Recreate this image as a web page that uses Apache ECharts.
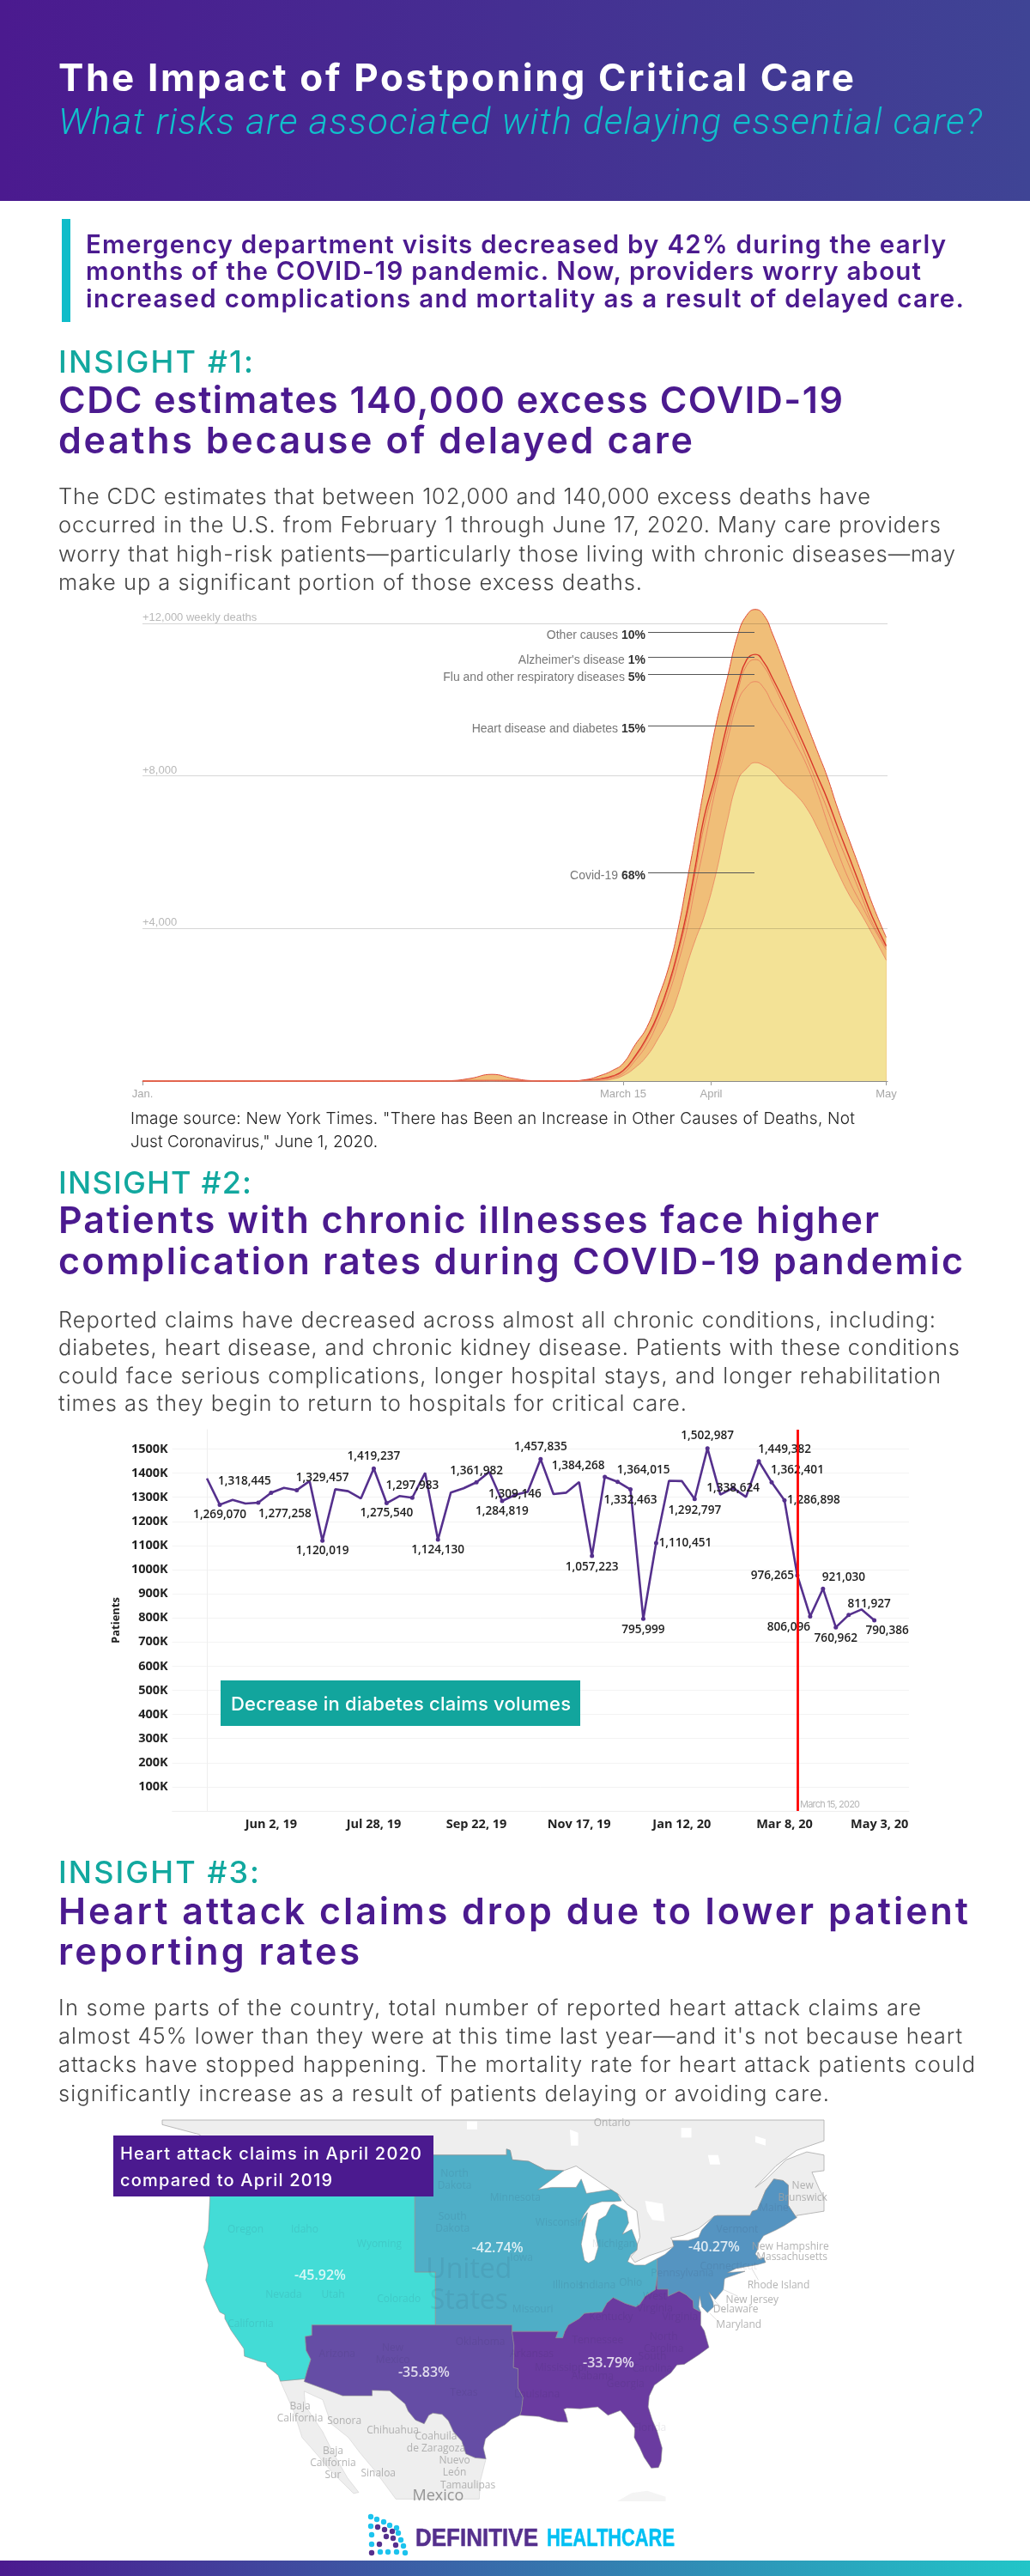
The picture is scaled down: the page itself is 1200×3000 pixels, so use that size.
<!DOCTYPE html>
<html>
<head>
<meta charset="utf-8">
<title>The Impact of Postponing Critical Care</title>
<script src="https://cdn.jsdelivr.net/npm/echarts@6/dist/echarts.min.js"></script>
<style>
  html, body { margin: 0; padding: 0; background: #fff; }
  #page { position: relative; width: 1200px; height: 3000px; overflow: hidden; }
  #chart, #copy { position: absolute; left: 0; top: 0; width: 1200px; height: 3000px; }
  #copy { pointer-events: none; }
  #copy text { font-family: Inter, "Noto Sans", sans-serif; font-variant-ligatures: none; }
  .title { font-size: 44px; font-weight: 700; fill: #fff; }
  .subtitle { font-family: Roboto, sans-serif !important; font-size: 43px; font-weight: 300; font-style: italic; fill: #10c0cc; }
  .callout { font-size: 29.5px; font-weight: 600; fill: #4b1a8f; }
  .insight { font-size: 36px; font-weight: 500; fill: #12a89f; }
  .heading { font-size: 43px; font-weight: 600; fill: #4b1a8f; }
  .body { font-size: 25.5px; font-weight: 300; fill: #444; }
  .source { font-size: 19px; font-weight: 300; fill: #222; }
  .box { font-size: 22px; font-weight: 500; fill: #fff; }
  .mapbox { font-size: 20px; font-weight: 500; fill: #fff; }
  .logo { font-family: "Liberation Sans Narrow", "Liberation Sans", sans-serif !important; font-size: 29px; font-weight: 700; stroke-width: 0.5; }
</style>
</head>
<body>
<div id="page">
  <div id="chart"></div>
  <svg id="copy" width="1200" height="3000" xmlns="http://www.w3.org/2000/svg">
    <defs>
      <linearGradient id="headGrad" x1="0" x2="1" y1="0" y2="0">
        <stop offset="0" stop-color="#4b1a8f"/><stop offset="1" stop-color="#3f4495"/>
      </linearGradient>
      <linearGradient id="footGrad" x1="0" x2="1" y1="0" y2="0">
        <stop offset="0" stop-color="#4b1a8f"/><stop offset="1" stop-color="#22c5c8"/>
      </linearGradient>
    </defs>
    <rect x="0" y="0" width="1200" height="234" fill="url(#headGrad)"/>
    <text class="title" x="68" y="106" textLength="927" lengthAdjust="spacing">The Impact of Postponing Critical Care</text>
    <text class="subtitle" x="68" y="156" textLength="1076" lengthAdjust="spacing">What risks are associated with delaying essential care?</text>

    <rect x="72" y="255" width="10" height="120" fill="#0fbcc9"/>
    <text class="callout" x="100" y="295" textLength="1002" lengthAdjust="spacing">Emergency department visits decreased by 42% during the early</text>
    <text class="callout" x="100" y="326" textLength="973" lengthAdjust="spacing">months of the COVID-19 pandemic. Now, providers worry about</text>
    <text class="callout" x="100" y="358" textLength="1023" lengthAdjust="spacing">increased complications and mortality as a result of delayed care.</text>

    <text class="insight" x="68" y="434" textLength="227" lengthAdjust="spacing">INSIGHT #1:</text>
    <text class="heading" x="68" y="481" textLength="914" lengthAdjust="spacing">CDC estimates 140,000 excess COVID-19</text>
    <text class="heading" x="68" y="528" textLength="739" lengthAdjust="spacing">deaths because of delayed care</text>
    <text class="body" x="68" y="587" textLength="946" lengthAdjust="spacing">The CDC estimates that between 102,000 and 140,000 excess deaths have</text>
    <text class="body" x="68" y="620" textLength="1028" lengthAdjust="spacing">occurred in the U.S. from February 1 through June 17, 2020. Many care providers</text>
    <text class="body" x="68" y="654" textLength="1045" lengthAdjust="spacing">worry that high-risk patients—particularly those living with chronic diseases—may</text>
    <text class="body" x="68" y="687" textLength="680" lengthAdjust="spacing">make up a significant portion of those excess deaths.</text>

    <text class="source" x="152" y="1309" textLength="844" lengthAdjust="spacing">Image source: New York Times. "There has Been an Increase in Other Causes of Deaths, Not</text>
    <text class="source" x="152" y="1336" textLength="288" lengthAdjust="spacing">Just Coronavirus," June 1, 2020.</text>

    <text class="insight" x="68" y="1390" textLength="225" lengthAdjust="spacing">INSIGHT #2:</text>
    <text class="heading" x="68" y="1436" textLength="956" lengthAdjust="spacing">Patients with chronic illnesses face higher</text>
    <text class="heading" x="68" y="1484" textLength="1054" lengthAdjust="spacing">complication rates during COVID-19 pandemic</text>
    <text class="body" x="68" y="1546" textLength="1022" lengthAdjust="spacing">Reported claims have decreased across almost all chronic conditions, including:</text>
    <text class="body" x="68" y="1578" textLength="1050" lengthAdjust="spacing">diabetes, heart disease, and chronic kidney disease. Patients with these conditions</text>
    <text class="body" x="68" y="1611" textLength="1028" lengthAdjust="spacing">could face serious complications, longer hospital stays, and longer rehabilitation</text>
    <text class="body" x="68" y="1643" textLength="732" lengthAdjust="spacing">times as they begin to return to hospitals for critical care.</text>

    <rect x="257" y="1957" width="419" height="53" fill="#12a59d"/>
    <text class="box" x="269" y="1992" textLength="396" lengthAdjust="spacing">Decrease in diabetes claims volumes</text>
    <text x="932" y="2105" font-size="11" fill="#b5b5b5" textLength="70" lengthAdjust="spacing">March 15, 2020</text>

    <text class="insight" x="68" y="2193" textLength="234" lengthAdjust="spacing">INSIGHT #3:</text>
    <text class="heading" x="68" y="2241" textLength="1060" lengthAdjust="spacing">Heart attack claims drop due to lower patient</text>
    <text class="heading" x="68" y="2288" textLength="351" lengthAdjust="spacing">reporting rates</text>
    <text class="body" x="68" y="2347" textLength="1005" lengthAdjust="spacing">In some parts of the country, total number of reported heart attack claims are</text>
    <text class="body" x="68" y="2380" textLength="1053" lengthAdjust="spacing">almost 45% lower than they were at this time last year—and it's not because heart</text>
    <text class="body" x="68" y="2413" textLength="1068" lengthAdjust="spacing">attacks have stopped happening. The mortality rate for heart attack patients could</text>
    <text class="body" x="68" y="2447" textLength="898" lengthAdjust="spacing">significantly increase as a result of patients delaying or avoiding care.</text>

    <rect x="132" y="2487" width="373" height="71" fill="#4b1a8f"/>
    <text class="mapbox" x="140" y="2515" textLength="351" lengthAdjust="spacing">Heart attack claims in April 2020</text>
    <text class="mapbox" x="140" y="2546" textLength="247" lengthAdjust="spacing">compared to April 2019</text>

    <g id="logoDots"></g>
    <text class="logo" x="484" y="2965" fill="#55308d" stroke="#55308d" textLength="143" lengthAdjust="spacingAndGlyphs">DEFINITIVE</text>
    <text class="logo" x="637" y="2965" fill="#00c0f3" stroke="#00c0f3" textLength="149" lengthAdjust="spacingAndGlyphs">HEALTHCARE</text>

    <rect x="0" y="2982" width="1200" height="18" fill="url(#footGrad)"/>
  </svg>
</div>
<script>
// ---- chart 1: excess deaths, each curve is the top of a band
const weekPos = [0, 4.68, 6.68, 7.16, 7.64, 8.14, 8.64, 9.12, 9.88, 10.34,
  10.68, 10.95, 11.2, 11.48, 11.75, 12.01, 12.28, 12.48, 12.68, 12.88, 13.08, 13.35, 13.61, 13.88,
  14.08, 14.28, 14.48, 14.68, 14.95, 15.21, 15.48, 15.75, 15.95, 16.21, 16.48, 16.75, 17.01, 17.33];
const otherTop = [0, 0, 0, 10, 70, 176, 70, 10, 0, 40,
  150, 278, 465, 953, 1404, 2155, 3056, 3994, 5188, 6404, 7651, 9287, 10489, 11727,
  12215, 12366, 12215, 11727, 10939, 10151, 9362, 8574, 7996, 7111, 6284, 5458, 4632, 3769];
const alzheimerTop = [0, 0, 0, 5, 10, 15, 10, 5, 0, 20,
  60, 130, 278, 653, 1141, 1742, 2605, 3431, 4407, 5608, 6885, 8011, 9287, 10414,
  11052, 11187, 10977, 10564, 9963, 9325, 8649, 7936, 7410, 6622, 5834, 5045, 4295, 3544];
const fluTop = [0, 0, 0, 4, 8, 12, 8, 4, 0, 15,
  55, 120, 255, 620, 1085, 1690, 2530, 3330, 4270, 5450, 6650, 7850, 9062, 10264,
  10902, 11052, 10864, 10451, 9813, 9175, 8461, 7711, 7148, 6359, 5609, 4858, 4144, 3506];
const heartTop = [0, 0, 0, 3, 6, 8, 6, 3, 0, 10,
  40, 90, 203, 540, 953, 1554, 2342, 3093, 3957, 5083, 6134, 7636, 8837, 9963,
  10339, 10474, 10301, 9888, 9400, 8874, 8274, 7485, 6810, 5984, 5233, 4632, 4069, 3446];
const covidTop = [0, 0, 0, 0, 0, 0, 0, 0, 0, 5,
  15, 50, 143, 353, 653, 1104, 1667, 2267, 3018, 3694, 4294, 5383, 6735, 7898,
  8199, 8349, 8274, 8124, 7786, 7523, 7148, 6584, 6096, 5458, 4858, 4370, 3844, 3168];
const causeNames = ['Other causes', "Alzheimer's disease", 'Flu and other respiratory diseases', 'Heart disease and diabetes', 'Covid-19'];
const causeShares = ['10%', '1%', '5%', '15%', '68%'];
const causeLeaderValues = [11780, 11112, 10661, 9317, 5466];
const deathTicks = [4000, 8000, 12000];
const deathTickLabels = ['+4,000', '+8,000', '+12,000 weekly deaths'];
const monthTicks = [0, 11.2, 13.25, 17.33];
const monthTickLabels = ['Jan.', 'March 15', 'April', 'May'];

// ---- chart 2: weekly diabetes claims, Apr 28 2019 to Apr 26 2020
const diabetesClaims = [1378000, 1269070, 1289000, 1274000, 1277258, 1318445, 1339000, 1329457, 1367000, 1120019,
  1333000, 1325000, 1295000, 1419237, 1275540, 1305000, 1297983, 1401000, 1124130, 1319000,
  1337000, 1361982, 1405000, 1284819, 1309146, 1323000, 1457835, 1313000, 1319000, 1363000,
  1057223, 1384268, 1364015, 1332463, 795999, 1110451, 1368000, 1367000, 1292797, 1502987,
  1311000, 1338624, 1301000, 1449382, 1362401, 1286898, 976265, 806096, 921030, 760962,
  811927, 835000, 790386];
const claimTickIndex = [5, 13, 21, 29, 37, 45, 52.4];
const claimTickLabels = ['Jun 2, 19', 'Jul 28, 19', 'Sep 22, 19', 'Nov 17, 19', 'Jan 12, 20', 'Mar 8, 20', 'May 3, 20'];
const marchIndex = 46;
// where each printed number sits relative to its point
const claimLabelOffsets = {
  1: [0, 12], 4: [31, 13], 5: [-31, -13], 7: [30, -14], 9: [0, 12], 13: [0, -14], 14: [0, 12], 16: [0, -14],
  18: [0, 12], 21: [0, -13], 23: [0, 12], 24: [0, -1], 26: [0, -14], 30: [0, 13], 31: [-31, -13], 32: [30, -14],
  33: [0, 13], 34: [0, 13], 35: [34, 0], 38: [0, 13], 39: [0, -15], 41: [0, 0], 43: [30, -14], 44: [30, -14],
  45: [34, 0], 46: [-29, 0], 47: [-25, 13], 48: [24, -13], 49: [0, 13], 50: [24, -13], 52: [15, 12]
};

// ---- chart 3: heart attack claims by region, April 2020 vs April 2019
const regionNames = ['West', 'Central', 'Northeast', 'South Central', 'Southeast'];
const regionChange = [-45.92, -42.74, -40.27, -35.83, -33.79];
const regionLabelCoords = [[-113.25, 40.74], [-96.03, 42.7], [-75, 42.74], [-103.17, 33.2], [-85.25, 34]];
const westRing = [[-124.7, 48.4], [-123, 48.3], [-122.8, 49], [-104.05, 49], [-104.05, 41], [-102.05, 41], [-102.05, 37], [-114.05, 37],
  [-114.05, 36.2], [-114.7, 36.1], [-114.6, 35], [-114.15, 34.3], [-114.5, 33.4], [-114.72, 32.72], [-117.12, 32.53], [-117.3, 33],
  [-118.4, 33.75], [-118.5, 34.03], [-119.2, 34.15], [-120.6, 34.55], [-120.65, 35.15], [-121.9, 36.6], [-122.5, 37.5], [-122.5, 37.8],
  [-123, 38], [-123.8, 39.3], [-124.35, 40.4], [-124.1, 41.5], [-124.55, 42.8], [-124.1, 44], [-123.95, 46.2], [-124.1, 46.9]];
const southCentralRing = [[-114.05, 37], [-94.62, 37], [-94.62, 36.5], [-94.43, 35.4], [-94.48, 33.64], [-94.04, 33.55], [-94.04, 33],
  [-94.04, 31.99], [-93.55, 31.2], [-93.7, 30.1], [-93.85, 29.7], [-94.7, 29.35], [-95.3, 28.9], [-96.4, 28.35], [-97.2, 27.7], [-97.4, 26.9],
  [-97.15, 25.96], [-98.2, 26.05], [-99.1, 26.4], [-99.5, 27.5], [-100.3, 28.3], [-100.8, 29.25], [-101.4, 29.77], [-102.3, 29.88],
  [-102.7, 29.7], [-103.15, 28.98], [-104, 29.3], [-104.7, 30.05], [-105, 30.65], [-106.5, 31.75], [-108.2, 31.78], [-108.2, 31.33],
  [-111.07, 31.33], [-114.8, 32.5], [-114.72, 32.72], [-114.5, 33.4], [-114.15, 34.3], [-114.6, 35], [-114.7, 36.1], [-114.05, 36.2]];
const centralRing = [[-104.05, 49], [-95.15, 49], [-95.15, 49.38], [-94.8, 49.3], [-94.6, 48.7], [-93, 48.6], [-91.4, 48.05], [-89.6, 48],
  [-92.1, 46.75], [-90.8, 46.9], [-88.4, 46.9], [-87.9, 47.45], [-87.4, 46.5], [-85, 46.75], [-84.4, 46.5], [-84, 46], [-84.7, 45.95],
  [-85.9, 45.95], [-87, 45.7], [-87.6, 45.1], [-88, 44.55], [-87.3, 45.2], [-87.55, 44.3], [-87.9, 43], [-87.6, 41.85], [-87.2, 41.65],
  [-86.6, 41.9], [-86.25, 42.8], [-86.5, 43.7], [-86.2, 44.7], [-85.5, 45], [-85, 45.7], [-84.75, 45.78], [-83.5, 45.3], [-83.3, 44.5],
  [-83.9, 43.7], [-83, 44.05], [-82.45, 43], [-82.5, 42.6], [-83.1, 42.25], [-83.4, 41.75], [-82.7, 41.5], [-81.7, 41.5], [-80.52, 41.97],
  [-80.52, 40.64], [-80.7, 39.7], [-81.7, 39.2], [-82.2, 38.6], [-82.6, 38.4], [-83.6, 38.65], [-84.8, 39.1], [-85.4, 38.7], [-85.9, 38],
  [-86.8, 37.95], [-87.6, 37.9], [-88.1, 37.5], [-89.15, 37], [-89.5, 36.5], [-89.7, 36], [-90.37, 36], [-90.15, 36.5], [-94.62, 36.5],
  [-94.62, 37], [-102.05, 37], [-102.05, 41], [-104.05, 41]];
const northeastRing = [[-80.52, 41.97], [-79.76, 42.27], [-78.9, 42.85], [-79.05, 43.27], [-77.5, 43.27], [-76.5, 43.5], [-76.2, 44], [-75, 44.95],
  [-74.7, 45], [-71.5, 45], [-71.3, 45.3], [-70.8, 45.4], [-70.3, 46.2], [-70, 46.7], [-69.2, 47.45], [-68.3, 47.35], [-67.8, 47.05], [-67.8, 45.7],
  [-67, 44.85], [-68.2, 44.3], [-69, 44], [-70.2, 43.6], [-70.7, 43.05], [-70.8, 42.6], [-71, 42.3], [-70.6, 41.95], [-70.2, 42.05], [-70, 41.7],
  [-70.7, 41.55], [-71.4, 41.45], [-72.9, 41.25], [-73.7, 40.95], [-72, 41.05], [-73.9, 40.55], [-74, 40.45], [-74.1, 39.7], [-74.9, 38.95],
  [-75.5, 39.5], [-75.1, 38.75], [-75.05, 38.4], [-75.65, 37.95], [-76.2, 38.4], [-76.4, 39.2], [-76.5, 38.4], [-76.3, 38], [-77, 38.3],
  [-77.05, 38.85], [-77.7, 39.3], [-78.4, 39.6], [-79.48, 39.2], [-79.48, 39.72], [-80.52, 39.72]];
const southeastRing = [[-94.62, 36.5], [-90.15, 36.5], [-90.37, 36], [-89.7, 36], [-89.5, 36.5], [-89.15, 37], [-88.1, 37.5], [-87.6, 37.9],
  [-86.8, 37.95], [-85.9, 38], [-85.4, 38.7], [-84.8, 39.1], [-83.6, 38.65], [-82.6, 38.4], [-82.2, 38.6], [-81.7, 39.2], [-80.7, 39.7],
  [-80.52, 40.64], [-80.52, 39.72], [-79.48, 39.72], [-79.48, 39.2], [-78.4, 39.6], [-77.7, 39.3], [-77.05, 38.85], [-77, 38.3], [-76.3, 38],
  [-76.3, 37], [-75.95, 36.55], [-75.5, 35.25], [-76.5, 34.65], [-77.9, 33.9], [-78.6, 33.85], [-79.2, 33.2], [-80.8, 32.2], [-81.3, 31.3],
  [-81.4, 30.4], [-81, 29.3], [-80.55, 28.4], [-80.05, 26.9], [-80.15, 25.75], [-80.4, 25.2], [-81.1, 25.15], [-81.8, 26.1], [-82.2, 26.9],
  [-82.75, 27.8], [-82.7, 28.6], [-83.6, 29.6], [-84.1, 30.1], [-85.3, 29.7], [-86.3, 30.4], [-88, 30.25], [-89.3, 30.3], [-89.6, 30.2],
  [-89.4, 29.8], [-89.2, 29.1], [-90.2, 29.15], [-91.3, 29.4], [-92, 29.6], [-93.85, 29.7], [-93.7, 30.1], [-93.55, 31.2], [-94.04, 31.99],
  [-94.04, 33], [-94.04, 33.55], [-94.48, 33.64], [-94.43, 35.4]];
const canadaRing = [[-128.58, 51.18], [-64.33, 51.18], [-64.33, 49.9], [-67, 49.3], [-69, 48.3], [-71, 46.9], [-70, 47.4], [-68, 48.7], [-66, 49.2],
  [-64.33, 49], [-64.33, 48], [-65.5, 47.9], [-64.8, 46.8], [-64.33, 46.2], [-64.33, 45.3], [-67, 45], [-67, 44.85], [-67.8, 45.7], [-67.8, 47.05],
  [-68.3, 47.35], [-69.2, 47.45], [-70, 46.7], [-70.3, 46.2], [-70.8, 45.4], [-71.3, 45.3], [-71.5, 45], [-74.7, 45], [-75, 44.95], [-76.5, 44.1],
  [-78, 43.63], [-79.2, 43.45], [-79.05, 43.27], [-78.9, 42.85], [-80, 42.5], [-81.25, 42.2], [-82.7, 41.7], [-83.1, 42.1], [-82.5, 42.6],
  [-82.45, 43], [-82.2, 43.5], [-82.5, 45.3], [-83.5, 45.8], [-84.2, 46.4], [-84.9, 46.7], [-88.4, 48.3], [-89.6, 48], [-91.4, 48.05], [-93, 48.6],
  [-94.6, 48.7], [-94.8, 49.3], [-95.15, 49.38], [-95.15, 49], [-122.8, 49], [-123.2, 49.3], [-125, 50.3], [-128.58, 50.9]];
const mexicoRing = [[-117.12, 32.53], [-114.72, 32.72], [-114.8, 32.5], [-111.07, 31.33], [-108.2, 31.33], [-108.2, 31.78], [-106.5, 31.75], [-105, 30.65],
  [-104.7, 30.05], [-104, 29.3], [-103.15, 28.98], [-102.7, 29.7], [-102.3, 29.88], [-101.4, 29.77], [-100.8, 29.25], [-100.3, 28.3], [-99.5, 27.5],
  [-99.1, 26.4], [-98.2, 26.05], [-97.15, 25.96], [-97.7, 24], [-97.8, 22.4], [-105.9, 22.4], [-108, 25], [-109.4, 26.5], [-110.5, 27.8], [-112.2, 29],
  [-113, 31], [-114.8, 31.7], [-114.7, 30.5], [-113, 28.3], [-112, 26.5], [-110.6, 24.3], [-109.5, 23], [-110, 22.9], [-112, 24.7], [-114.2, 27],
  [-115, 27.8], [-115.8, 30]];
const cubaRing = [[-84.4, 22.2], [-83, 22.95], [-81.5, 23.15], [-79.7, 22.6], [-79.7, 22.2]];
const mapFrameRing = [[-128.58, 51.18], [-64.33, 51.18], [-64.33, 22.2], [-128.58, 22.2]];
const canadianLakes = [
  [[-81.7, 46], [-80, 45.8], [-79.8, 44.6], [-81, 44.7], [-81.5, 45.3]],
  [[-89, 50.6], [-88.2, 50.4], [-88.2, 49.6], [-88.9, 49.6]],
  [[-75.6, 49], [-74.6, 49], [-74.4, 48.4], [-75.4, 48.4]],
  [[-78.2, 50.7], [-77.2, 50.7], [-77.2, 50.1], [-78.2, 50.1]],
  [[-71, 50.2], [-70, 50], [-70, 49.6], [-71, 49.8]],
  [[-99, 51.1], [-98, 51.1], [-98, 50.6], [-99, 50.6]]
];
const insidePlaces = ['North\nDakota', 'South\nDakota', 'Minnesota', 'Wisconsin', 'Michigan', 'Iowa', 'Illinois', 'Indiana', 'Ohio', 'Missouri',
  'Oregon', 'Idaho', 'Wyoming', 'Nevada', 'Utah', 'Colorado', 'California', 'Arizona', 'New\nMexico', 'Texas', 'Oklahoma', 'Pennsylvania', 'Kentucky',
  'West\nVirginia', 'Virginia', 'Tennessee', 'North\nCarolina', 'South\nCarolina', 'Arkansas', 'Mississippi', 'Alabama', 'Georgia', 'Louisiana',
  'Florida', 'Vermont', 'Maine', 'Connecticut'];
const insideCoords = [[-100.2, 47.4], [-100.4, 44.5], [-94.3, 46.2], [-90, 44.5], [-84.75, 43], [-93.7, 42], [-89.2, 40], [-86.3, 40], [-83.1, 40.2], [-92.6, 38.2],
  [-120.5, 44], [-114.75, 44], [-107.5, 43], [-116.8, 39.3], [-112, 39.3], [-105.6, 39], [-120, 37.1], [-111.6, 34.7], [-106.2, 34.7], [-99.3, 31.6], [-97.7, 35.7],
  [-78.1, 40.9], [-85, 37.6], [-80.75, 38.7], [-78.3, 37.6], [-86.3, 35.8], [-79.9, 35.6], [-81, 34], [-92.7, 34.7], [-89.9, 33.6], [-86.8, 32.9], [-83.6, 32.3],
  [-92.2, 31.4], [-81.25, 28.6], [-72.75, 44], [-69.2, 45.5], [-73.6, 41.4]];
const outsidePlaces = ['Ontario', 'New\nBrunswick', 'New Hampshire', 'Massachusetts', 'Rhode Island', 'New Jersey', 'Delaware', 'Maryland', 'Baja\nCalifornia',
  'Sonora', 'Chihuahua', 'Coahuila\nde Zaragoza', 'Baja\nCalifornia\nSur', 'Sinaloa', 'Nuevo\nLeón', 'Tamaulipas'];
const outsideCoords = [[-84.9, 51], [-66.4, 46.6], [-67.6, 42.8], [-67.45, 42.1], [-68.75, 40], [-71.3, 38.9], [-72.9, 38.2], [-72.6, 37], [-115.2, 29.9],
  [-110.9, 29.2], [-106.2, 28.4], [-102, 27.4], [-112, 25.6], [-107.6, 24.7], [-100.2, 25.3], [-98.9, 23.6]];
const placeLeaders = [
  [[-71.3, 41.2], [-70.7, 40.4]], [[-74.1, 39.7], [-72.7, 39.2]], [[-75, 38.9], [-74, 38.1]], [[-75.4, 37.9], [-74.5, 37.2]]
];

// logo dots, page pixels
const logoCyan = [[432, 2931], [439, 2934], [447, 2937], [454, 2941], [462, 2944], [464, 2950], [467, 2958], [470, 2965], [472, 2973],
  [432, 2942], [433, 2952], [433, 2963], [443, 2972], [452, 2972], [462, 2972]];
const logoPurple = [[440, 2943], [448, 2946], [457, 2948], [450, 2954], [458, 2956], [442, 2963], [461, 2964], [433, 2973]];

const dotsGroup = document.getElementById('logoDots');
function addDots(list, color) {
  list.forEach(p => {
    const c = document.createElementNS('http://www.w3.org/2000/svg', 'circle');
    c.setAttribute('cx', p[0]); c.setAttribute('cy', p[1]); c.setAttribute('r', 3.2); c.setAttribute('fill', color);
    dotsGroup.appendChild(c);
  });
}
addDots(logoCyan, '#1cc3ee');
addDots(logoPurple, '#55308d');

function feature(name, ring) {
  return { type: 'Feature', properties: { name: name }, geometry: { type: 'Polygon', coordinates: [ring.concat([ring[0]])] } };
}
echarts.registerMap('claimRegions', {
  type: 'FeatureCollection',
  features: [
    feature('frame', mapFrameRing), feature('Canada', canadaRing), feature('Mexico', mexicoRing), feature('Cuba', cubaRing),
    feature('West', westRing), feature('Central', centralRing), feature('Northeast', northeastRing),
    feature('South Central', southCentralRing), feature('Southeast', southeastRing)
  ].concat(canadianLakes.map((r, i) => feature('lake' + i, r)))
});

const RAD = Math.PI / 180;
const mercator = {
  project: p => [p[0], -Math.log(Math.tan(Math.PI / 4 + p[1] * RAD / 2)) / RAD],
  unproject: p => [p[0], (2 * Math.atan(Math.exp(-p[1] * RAD)) - Math.PI / 2) / RAD]
};

const narrow = '"Liberation Sans Narrow", "Liberation Sans", sans-serif';
const tableauFont = '"Open Sans", "Noto Sans", sans-serif';

function bandLine(name, values, color, width, fill) {
  return {
    name: name, type: 'line', xAxisIndex: 0, yAxisIndex: 0, clip: false, animation: false,
    data: weekPos.map((w, i) => [w, values[i]]),
    showSymbol: false, smooth: 0.5,
    lineStyle: { color: color, width: width }, areaStyle: { color: fill, opacity: 1 }, silent: true
  };
}

const leaderData = causeNames.map((name, i) => [
  { coord: [11.78, causeLeaderValues[i]], name: name },
  { coord: [14.26, causeLeaderValues[i]] }
]);

const option = {
  animation: false,
  grid: [
    { left: 166, top: 726, width: 868, height: 533 },
    { left: 200.7, top: 1665, width: 858.3, height: 444, show: false }
  ],
  xAxis: [
    {
      gridIndex: 0, type: 'value', min: 0, max: 17.36, splitLine: { show: false },
      axisLine: { show: true, onZero: false, lineStyle: { color: '#8a8a8a', width: 1 } },
      axisTick: { show: true, length: 5, customValues: monthTicks, lineStyle: { color: '#999' } },
      axisLabel: {
        customValues: monthTicks, margin: 9, color: '#a8a8a8', fontFamily: narrow, fontSize: 13,
        formatter: v => monthTickLabels[monthTicks.indexOf(v)]
      }
    },
    {
      gridIndex: 1, type: 'value', min: -2.7, max: 54.7, splitLine: { show: false },
      axisLine: { show: true, lineStyle: { color: '#eeeeee' } }, axisTick: { show: false },
      axisLabel: {
        customValues: claimTickIndex, margin: 8, color: '#222', fontFamily: tableauFont, fontWeight: 700, fontSize: 14.5,
        formatter: v => claimTickLabels[claimTickIndex.indexOf(v)]
      }
    }
  ],
  yAxis: [
    {
      gridIndex: 0, type: 'value', min: 0, max: 12000, interval: 4000, z: 5,
      axisLine: { show: false }, axisTick: { show: false },
      splitLine: { show: true, showMinLine: false, lineStyle: { color: 'rgba(0,0,0,0.16)', width: 1 } },
      axisLabel: {
        customValues: deathTicks, inside: true, margin: 0, align: 'left', verticalAlign: 'bottom', color: '#b8b8b8',
        fontFamily: narrow, fontSize: 13, formatter: v => deathTickLabels[deathTicks.indexOf(v)]
      }
    },
    {
      gridIndex: 1, type: 'value', min: 0, max: 1580000, interval: 100000,
      name: 'Patients', nameLocation: 'middle', nameRotate: 90, nameGap: 52,
      nameTextStyle: { color: '#222', fontFamily: tableauFont, fontWeight: 700, fontSize: 13 },
      axisLine: { show: true, lineStyle: { color: '#eeeeee' } }, axisTick: { show: false },
      splitLine: { show: true, showMinLine: false, showMaxLine: false, lineStyle: { color: '#f3f3f3', width: 1 } },
      axisLabel: {
        showMinLabel: false, showMaxLabel: false, margin: 5, color: '#222', fontFamily: tableauFont, fontWeight: 700, fontSize: 14.5,
        formatter: v => (v / 1000) + 'K'
      }
    }
  ],
  geo: {
    map: 'claimRegions', projection: mercator, left: 189, top: 2469, width: 771, height: 444,
    roam: false, silent: true,
    label: { show: false }, emphasis: { disabled: true },
    itemStyle: { areaColor: '#eeeeee', borderColor: '#8f8f8f', borderWidth: 0.6 },
    regions: [
      { name: 'frame', itemStyle: { areaColor: 'rgba(255,255,255,0)', borderWidth: 0 } },
      { name: 'Canada', itemStyle: { areaColor: '#eeeeee', borderColor: '#a8a8a8', borderWidth: 0.8 } },
      { name: 'Mexico', itemStyle: { areaColor: '#eeeeee', borderColor: '#c8c8c8', borderWidth: 0.5 } },
      { name: 'Cuba', itemStyle: { areaColor: '#f4f4f4', borderWidth: 0 } }
    ].concat(canadianLakes.map((r, i) => ({ name: 'lake' + i, itemStyle: { areaColor: '#fff', borderWidth: 0 } })))
  },
  visualMap: {
    show: false, seriesIndex: 6, min: -45.92, max: -33.79,
    inRange: { color: ['#43dcd6', '#4fb0c7', '#5690c0', '#6356a8', '#6a3ba0'] }
  },
  series: [
    bandLine('Other causes', otherTop, '#df4a36', 1, '#f0be78'),
    bandLine("Alzheimer's disease", alzheimerTop, '#d9362a', 1.4, '#f0be78'),
    bandLine('Flu and other respiratory diseases', fluTop, '#e56a4e', 0.7, '#f0be78'),
    bandLine('Heart disease and diabetes', heartTop, '#e8705a', 0.7, '#f0be78'),
    Object.assign(bandLine('Covid-19', covidTop, '#e8755a', 0.7, '#f3e296'), {
      z: 4,
      markLine: {
        silent: true, symbol: 'none', animation: false,
        lineStyle: { color: '#555', width: 1, type: 'solid' },
        label: {
          show: true, position: 'start', distance: 3, offset: [0, 4], fontFamily: narrow, fontSize: 14, color: '#777',
          formatter: p => '{n|' + p.name + ' }{s|' + causeShares[causeNames.indexOf(p.name)] + '}',
          rich: {
            n: { color: '#777', fontFamily: narrow, fontSize: 14 },
            s: { color: '#333', fontFamily: narrow, fontSize: 14, fontWeight: 700 }
          }
        },
        data: leaderData
      }
    }),
    {
      name: 'Diabetes claims', type: 'line', xAxisIndex: 1, yAxisIndex: 1, animation: false, silent: true, z: 4,
      showAllSymbol: true, symbol: 'circle',
      lineStyle: { color: '#55308d', width: 2.6 }, itemStyle: { color: '#55308d' },
      data: diabetesClaims.map((v, i) => {
        const off = claimLabelOffsets[i];
        return {
          value: [i, v], symbolSize: off ? 5 : 0,
          label: off ? {
            show: true, position: 'inside', offset: off, color: '#1c1c1c', fontFamily: tableauFont, fontWeight: 600, fontSize: 13.6,
            formatter: p => p.value[1].toLocaleString('en-US')
          } : { show: false }
        };
      }),
      markLine: {
        silent: true, symbol: 'none', animation: false, label: { show: false }, z: 8,
        lineStyle: { color: '#ff0000', width: 2.8, type: 'solid', opacity: 1 },
        data: [{ xAxis: marchIndex }]
      }
    },
    {
      name: 'Claims change', type: 'map', geoIndex: 0, silent: true,
      data: regionNames.map((n, i) => ({ name: n, value: regionChange[i] }))
    },
    {
      name: 'Places outside', type: 'scatter', coordinateSystem: 'geo', geoIndex: 0, silent: true, symbolSize: 0, z: 5,
      data: outsidePlaces.map((n, i) => ({ name: n, value: outsideCoords[i] })),
      label: { show: true, position: 'inside', formatter: '{b}', color: '#a0a0a0', fontFamily: tableauFont, fontSize: 12, lineHeight: 14 }
    },
    {
      name: 'Places inside', type: 'scatter', coordinateSystem: 'geo', geoIndex: 0, silent: true, symbolSize: 0, z: 5,
      data: insidePlaces.map((n, i) => ({ name: n, value: insideCoords[i] })),
      label: { show: true, position: 'inside', formatter: '{b}', color: 'rgba(40,40,70,0.13)', fontFamily: tableauFont, fontSize: 12, lineHeight: 14 }
    },
    {
      name: 'Country names', type: 'scatter', coordinateSystem: 'geo', geoIndex: 0, silent: true, symbolSize: 0, z: 5,
      data: [
        { name: 'United\nStates', value: [-98.8, 40], label: { color: 'rgba(40,60,90,0.12)', fontSize: 32, lineHeight: 36 } },
        { name: 'Mexico', value: [-101.8, 22.7], label: { color: '#7d7d7d', fontSize: 18, lineHeight: 20 } }
      ],
      label: { show: true, position: 'inside', formatter: '{b}', fontFamily: tableauFont }
    },
    {
      name: 'Change labels', type: 'scatter', coordinateSystem: 'geo', geoIndex: 0, silent: true, symbolSize: 0, z: 6,
      data: regionChange.map((v, i) => ({ name: regionNames[i], value: regionLabelCoords[i].concat(v) })),
      label: {
        show: true, position: 'inside', color: '#fff', fontFamily: tableauFont, fontWeight: 600, fontSize: 16,
        formatter: p => p.value[2].toFixed(2) + '%'
      }
    },
    {
      name: 'Place leaders', type: 'lines', coordinateSystem: 'geo', geoIndex: 0, silent: true, z: 4,
      lineStyle: { color: '#d4d4d4', width: 0.8, opacity: 1 },
      data: placeLeaders.map(l => ({ coords: l }))
    }
  ]
};

const chart = echarts.init(document.getElementById('chart'));
chart.setOption(option);
</script>
</body>
</html>
